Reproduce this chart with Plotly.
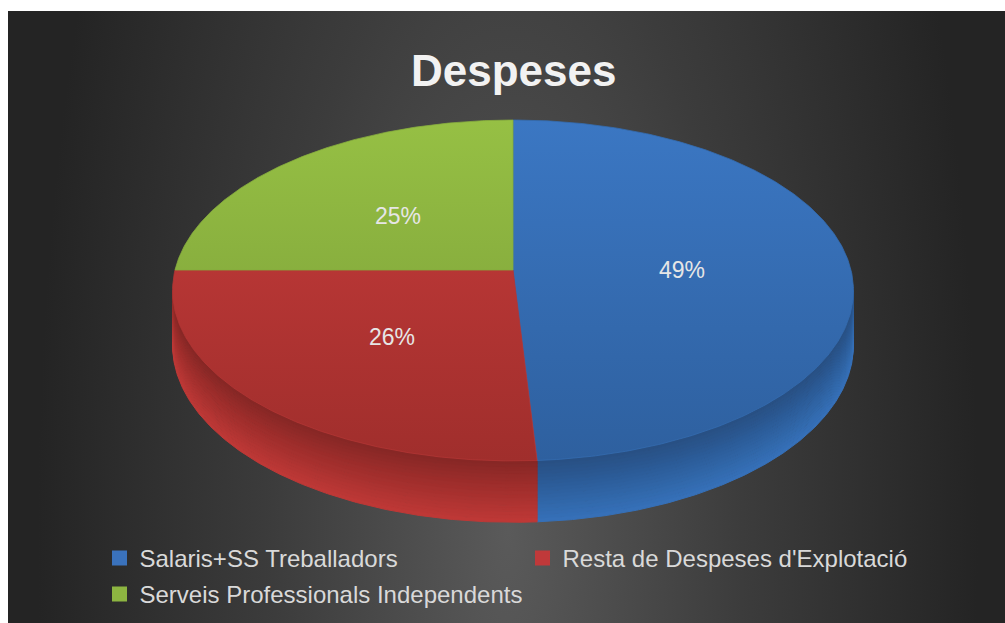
import base64
import numpy as np
import plotly.graph_objects as go

# ---------------- data ----------------
categories = ["Salaris+SS Treballadors",
              "Resta de Despeses d'Explotació",
              "Serveis Professionals Independents"]
values = [49, 26, 25]
title_text = "Despeses"

# ---------------- styles ----------------
top_colors = [("#3b77c3", "#2e609f"), ("#c83c3b", "#a02e2c"), ("#96c044", "#789a37")]
side_stops = [["#284f82", "#2b5a95", "#3066a8", "#3671b9"],
              ["#852725", "#9a2c2a", "#ad3230", "#bf3937"],
              ["#5e7a2b", "#6a8930", "#779a36", "#85ab3c"]]
legend_colors = ["#3a72bc", "#c0393a", "#8db541"]
label_color = "#e6e6e6"
FONT = "Liberation Sans"

W, H = 1005, 623
CX, CY, RX, RY, P, DEPTH = 513, 270, 338, 168, 0.12, 54


def proj(th, f=1.0, t=0.0):
    r = np.radians(th)
    z = f * np.cos(r)
    s = 1.0 / (1.0 + P * z)
    x = CX + RX * f * np.sin(r) * s
    y = CY - RY * z * s + t * DEPTH * s
    return x, y


def hex2rgb(h):
    h = h.lstrip('#')
    return [int(h[i:i + 2], 16) for i in (0, 2, 4)]


def interp(stops, u):
    n = len(stops) - 1
    pos = u * n
    i = min(int(pos), n - 1)
    fr = pos - i
    a, b = hex2rgb(stops[i]), hex2rgb(stops[i + 1])
    c = [round(a[k] + (b[k] - a[k]) * fr) for k in range(3)]
    return "rgb(%d,%d,%d)" % tuple(c)


total = float(sum(values))
bounds = [0.0]
for v in values:
    bounds.append(bounds[-1] + 360.0 * v / total)

fig = go.Figure()

# ---- visible side walls ----
thmin = np.degrees(np.arccos(-P))
thmax = 360.0 - thmin
NB = 18
for i in range(len(values)):
    a, b = max(bounds[i], thmin), min(bounds[i + 1], thmax)
    if a >= b:
        continue
    th = np.linspace(a, b, 240)
    for k in range(NB):
        t0, t1 = k / NB, (k + 1) / NB
        x0, y0 = proj(th, 1.0, t0)
        x1, y1 = proj(th[::-1], 1.0, t1)
        col = interp(side_stops[i], (k + 0.5) / NB)
        fig.add_trace(go.Scatter(
            x=np.concatenate([x0, x1, x0[:1]]), y=np.concatenate([y0, y1, y0[:1]]),
            mode="lines", fill="toself", fillcolor=col,
            line=dict(color=col, width=1), hoverinfo="skip", showlegend=False))

# ---- top faces ----
ytop = proj(0.0)[1]
ybot = proj(180.0)[1]
for i in range(len(values)):
    th = np.linspace(bounds[i], bounds[i + 1], 300)
    x, y = proj(th)
    xs = np.concatenate([[CX], x, [CX]])
    ys = np.concatenate([[CY], y, [CY]])
    c0, c1 = top_colors[i]
    fig.add_trace(go.Scatter(
        x=xs, y=ys, mode="lines", fill="toself",
        fillgradient=dict(type="vertical", start=ytop, stop=ybot,
                          colorscale=[[0, c0], [1, c1]]),
        line=dict(color=interp([c0, c1], 0.5), width=0.8),
        hoverinfo="skip", showlegend=False))

# ---- data labels ----
for i, v in enumerate(values):
    mid = (bounds[i] + bounds[i + 1]) / 2
    lx, ly = proj(mid, 0.5)
    fig.add_annotation(x=float(lx), y=float(ly), xref="x", yref="y",
                       text="%d%%" % round(100 * v / total), showarrow=False,
                       xanchor="center", yanchor="middle", yshift=-3,
                       font=dict(family=FONT, size=23, color=label_color))

# ---- legend entries ----
legend_ids = ["legend", "legend", "legend2"]
for i, cat in enumerate(categories):
    fig.add_trace(go.Scatter(
        x=[None], y=[None], mode="markers", name=cat, legend=legend_ids[i],
        marker=dict(symbol="square", size=15, color=legend_colors[i], line=dict(width=0)),
        hoverinfo="skip"))

# ---- background gradient (SVG) ----
PX0, PY0 = 8, 11
PW, PH = W - PX0, H - PY0
svg = ("<svg xmlns='http://www.w3.org/2000/svg' width='%d' height='%d'>"
       "<defs><radialGradient id='g' gradientUnits='userSpaceOnUse' cx='0' cy='0' r='1' "
       "gradientTransform='translate(%d %d) scale(470 1300)'>"
       "<stop offset='0' stop-color='#5a5a5a'/>"
       "<stop offset='0.5' stop-color='#3c3c3c'/>"
       "<stop offset='1' stop-color='#242424'/>"
       "</radialGradient></defs>"
       "<rect width='100%%' height='100%%' fill='url(#g)'/></svg>") % (PW, PH, 500, 520)
src = "data:image/svg+xml;base64," + base64.b64encode(svg.encode()).decode()

leg_common = dict(orientation="h", xanchor="left", yanchor="middle",
                  entrywidth=378, entrywidthmode="pixels", itemwidth=30,
                  font=dict(family=FONT, size=24, color="#d9d9d9"),
                  bgcolor="rgba(0,0,0,0)", borderwidth=0, itemclick=False,
                  itemdoubleclick=False)

fig.update_layout(
    width=W, height=H,
    margin=dict(l=0, r=0, t=0, b=0),
    paper_bgcolor="white", plot_bgcolor="rgba(0,0,0,0)",
    xaxis=dict(range=[0, W], visible=False, fixedrange=True, domain=[0, 1]),
    yaxis=dict(range=[H, 0], visible=False, fixedrange=True, domain=[0, 1]),
    images=[dict(source=src, xref="paper", yref="paper",
                 x=PX0 / W, y=1 - PY0 / H, sizex=PW / W, sizey=PH / H,
                 xanchor="left", yanchor="top", sizing="stretch", layer="below")],
    legend=dict(x=(119.5 - 20) / W, y=1 - 558.5 / H, **leg_common),
    legend2=dict(x=(119.5 - 20) / W, y=1 - 594.5 / H, **leg_common),
    showlegend=True,
)
fig.add_annotation(x=513, y=70, xref="x", yref="y", text="<b>%s</b>" % title_text,
                   showarrow=False, xanchor="center", yanchor="middle",
                   font=dict(family=FONT, size=44, color="#f2f2f2"))

fig.write_html("out.html", config={"displayModeBar": False},
               post_script="document.body.style.margin='0';")
